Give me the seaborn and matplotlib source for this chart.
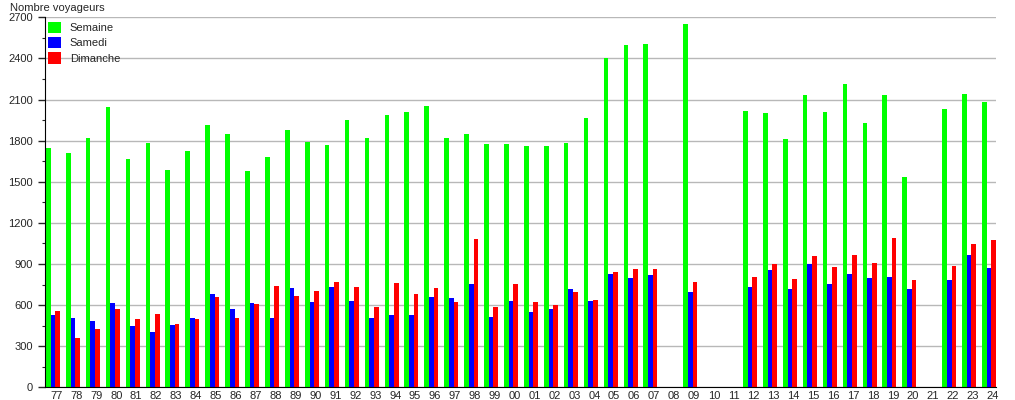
import numpy as np
import pandas as pd
import seaborn as sns
import matplotlib.pyplot as plt
from matplotlib.ticker import MultipleLocator

# Years (two-digit labels)
years = ['77', '78', '79', '80', '81', '82', '83', '84', '85', '86',
         '87', '88', '89', '90', '91', '92', '93', '94', '95', '96',
         '97', '98', '99', '00', '01', '02', '03', '04', '05', '06',
         '07', '08', '09', '10', '11', '12', '13', '14', '15', '16',
         '17', '18', '19', '20', '21', '22', '23', '24']

nan = np.nan
semaine = [1744, 1707, 1817, 2044, 1663, 1780, 1583, 1722, 1912, 1846,
           1576, 1678, 1876, 1788, 1766, 1949, 1817, 1985, 2007, 2051,
           1817, 1846, 1773, 1773, 1759, 1759, 1780, 1963, 2402, 2495,
           2505, nan, 2652, nan, nan, 2015, 2000, 1810, 2132, 2007,
           2212, 1927, 2132, 1532, nan, 2029, 2139, 2080]
samedi = [529, 507, 485, 617, 449, 405, 456, 507, 683, 573,
          617, 507, 727, 624, 734, 632, 507, 529, 529, 661,
          654, 756, 515, 632, 551, 573, 720, 632, 829, 800,
          822, nan, 698, nan, nan, 734, 859, 720, 902, 756,
          829, 800, 807, 720, nan, 785, 968, 873]
dimanche = [559, 361, 427, 573, 500, 537, 463, 500, 661, 507,
            610, 741, 665, 705, 771, 734, 588, 763, 683, 727,
            624, 1085, 588, 756, 624, 602, 698, 639, 844, 866,
            866, nan, 771, nan, nan, 807, 902, 793, 961, 880,
            968, 910, 1093, 785, nan, 888, 1049, 1078]

series = ['Semaine', 'Samedi', 'Dimanche']
colors = {'Semaine': '#00ff00', 'Samedi': '#0000ff', 'Dimanche': '#ff0000'}

df = pd.DataFrame({'annee': years, 'Semaine': semaine,
                   'Samedi': samedi, 'Dimanche': dimanche})
long = df.melt(id_vars='annee', var_name='jour', value_name='voyageurs').dropna()

sns.set_style("white")
plt.rcParams['font.family'] = ['Liberation Sans', 'DejaVu Sans']

fig = plt.figure(figsize=(10.15, 4), dpi=100)
ax = fig.add_axes([45 / 1015, 1 - 387.3 / 400, 951 / 1015, 370 / 400])

sns.barplot(data=long, x='annee', y='voyageurs', hue='jour',
            order=years, hue_order=series, palette=colors,
            saturation=1, width=0.7, errorbar=None, ax=ax,
            linewidth=0, edgecolor='none')

ax.set_xlim(-0.40, len(years) - 1 + 0.35)
ax.set_ylim(0, 2700)
ax.set_xticks(np.arange(len(years)) + 0.18)
ax.set_xticklabels(years, fontsize=8)
ax.set_xlabel('')
ax.set_ylabel('')

ax.yaxis.set_major_locator(MultipleLocator(300))
ax.yaxis.set_minor_locator(MultipleLocator(150))
ax.tick_params(axis='y', which='major', length=5, width=1, pad=3.5,
               labelsize=8, left=True)
ax.tick_params(axis='y', which='minor', length=2.5, width=0.8, left=True)
ax.tick_params(axis='x', length=0, pad=3)

ax.grid(axis='y', which='major', color='#b8b8b8', linewidth=1)
ax.set_axisbelow(True)
for side in ['top', 'right']:
    ax.spines[side].set_visible(False)
ax.spines['left'].set_color('black')
ax.spines['bottom'].set_color('black')

handles, labels = ax.get_legend_handles_labels()
ax.legend(handles, labels, loc='upper left', bbox_to_anchor=(0.003, 0.988),
          frameon=False, fontsize=8, handlelength=1.17, handleheight=1.17,
          labelspacing=0.36, handletextpad=0.8, borderaxespad=0, borderpad=0)

fig.text(10 / 1015, 0.992, 'Nombre voyageurs', fontsize=8, va='top', ha='left')

fig.savefig('out.png', dpi=100)
